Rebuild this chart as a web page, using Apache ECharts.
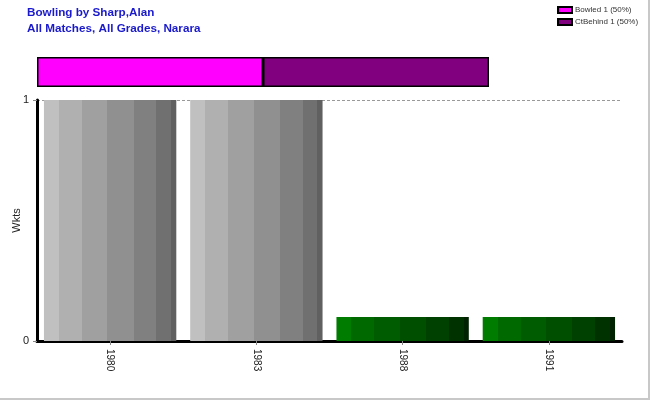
<!DOCTYPE html>
<html><head><meta charset="utf-8">
<script src="https://cdn.jsdelivr.net/npm/echarts@6/dist/echarts.min.js"></script>
<style>html,body{margin:0;padding:0;background:#fff}#c{width:650px;height:400px;box-sizing:border-box;border-right:2px solid #c8c8c8;border-bottom:2px solid #c8c8c8}</style>
</head><body><div id="c"></div>
<script>
const categories = ['1980', '1983', '1988', '1991'];
const wickets = [1, 1, 0.1, 0.1];
const barKinds = ['gray', 'gray', 'green', 'green'];
const dismissalNames = ['Bowled 1 (50%)', 'CtBehind 1 (50%)'];
const dismissalCounts = [1, 1];
const dismissalColors = ['#ff00ff', '#800080'];

function stepGradient(colors, stops) {
  const cs = [];
  for (let i = 0; i < colors.length; i++) {
    const s = stops[i], e = i + 1 < stops.length ? stops[i + 1] : 1;
    cs.push({offset: s, color: colors[i]}, {offset: e, color: colors[i]});
  }
  return new echarts.graphic.LinearGradient(0, 0, 1, 0, cs);
}
const stops = [0, 0.113, 0.286, 0.48, 0.677, 0.85, 0.96];
const grays = ['#c0c0c0', '#b0b0b0', '#a0a0a0', '#909090', '#808080', '#707070', '#606060'];
const greens = ['#007c00', '#006a00', '#005c00', '#004e00', '#004000', '#003200', '#002200'];

const chart = echarts.init(document.getElementById('c'));
chart.setOption({
  animation: false,
  textStyle: {fontFamily: 'Liberation Sans, Arial, sans-serif'},
  title: {
    text: 'Bowling by Sharp,Alan\nAll Matches, All Grades, Narara',
    left: 22, top: 0,
    textStyle: {color: '#1a1acc', fontSize: 11.7, fontWeight: 'bold', lineHeight: 16, fontFamily: 'Liberation Sans, Arial, sans-serif'}
  },
  legend: {
    orient: 'vertical', left: 552, top: 1, itemWidth: 14, itemHeight: 6, itemGap: 4, icon: 'rect',
    textStyle: {fontSize: 8, color: '#333', padding: [0, 0, 0, -2]},
    data: dismissalNames
  },
  grid: [
    {left: 37, right: 26, top: 100, bottom: 57, outerBoundsMode: 'none', containLabel: false},
    {left: 37, width: 452, top: 57, height: 30, outerBoundsMode: 'none', containLabel: false}
  ],
  xAxis: [
    {type: 'category', gridIndex: 0, data: categories,
     axisLine: {lineStyle: {color: '#000', width: 3}},
     axisTick: {show: true, alignWithLabel: true, length: 4, lineStyle: {color: '#888'}},
     axisLabel: {rotate: -90, fontSize: 10, color: '#222', margin: 8}},
    {type: 'value', gridIndex: 1, min: 0, max: 2, show: false}
  ],
  yAxis: [
    {type: 'value', gridIndex: 0, min: 0, max: 1, interval: 1,
     name: 'Wkts', nameLocation: 'middle', nameGap: 15, nameRotate: 90, nameMoveOverlap: false,
     nameTextStyle: {fontSize: 11, color: '#222'},
     axisLine: {show: true, lineStyle: {color: '#000', width: 3}},
     axisTick: {show: true, length: 4, lineStyle: {color: '#888'}},
     axisLabel: {fontSize: 11, color: '#222', margin: 8},
     splitLine: {show: true, lineStyle: {color: '#999', type: [3, 2]}}},
    {type: 'category', gridIndex: 1, data: ['x'], show: false}
  ],
  series: [
    {type: 'bar', xAxisIndex: 0, yAxisIndex: 0, barCategoryGap: '9.5%',
     data: wickets.map((v, i) => ({value: v, itemStyle: {color: stepGradient(barKinds[i] === 'gray' ? grays : greens, stops)}}))},
    ...dismissalNames.map((n, i) => ({
      type: 'bar', name: n, xAxisIndex: 1, yAxisIndex: 1, stack: 'd', barWidth: '100%',
      itemStyle: {color: dismissalColors[i], borderColor: '#000', borderWidth: 1.5},
      data: [dismissalCounts[i]]
    }))
  ]
});
</script></body></html>
